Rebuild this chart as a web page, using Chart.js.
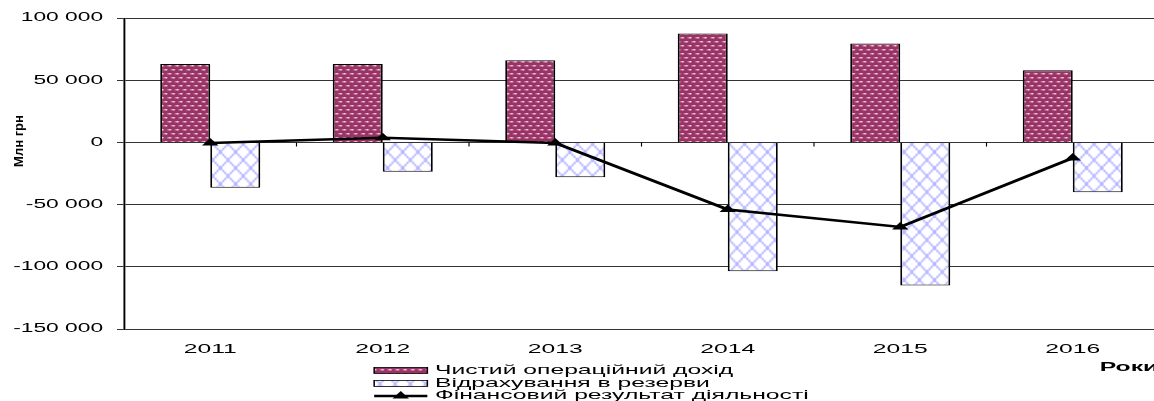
<!DOCTYPE html>
<html>
<head>
<meta charset="utf-8">
<script src="https://cdn.jsdelivr.net/npm/chart.js@4"></script>
<style>
  body { margin: 0; background: #fff; }
  #wrap { width: 1154px; height: 401px; overflow: hidden; }
  canvas { display: block; }
</style>
</head>
<body>
<div id="wrap"><canvas id="chart" width="616" height="401"></canvas></div>
<script>
// Дані
const roky = ['2011', '2012', '2013', '2014', '2015', '2016'];
const dokhid = [63000, 63000, 66000, 87500, 79500, 58000];
const rezervy = [-36500, -23500, -28000, -103500, -115000, -40000];
const rezultat = [-500, 3800, -500, -54000, -68000, -12500];
const nazvy = ['Чистий операційний дохід', 'Відрахування в резерви', 'Фінансовий результат діяльності'];

// оригінал розтягнутий по горизонталі, тому малюємо вузько і масштабуємо
const REAL_W = 1170;
const W0 = 616;
const K = REAL_W / W0;
const FONT = '"Liberation Sans", Arial, sans-serif';

function patternDots() {
    const c = document.createElement('canvas');
    c.width = 4; c.height = 8;
    const g = c.getContext('2d');
    g.fillStyle = '#993366';
    g.fillRect(0, 0, 4, 8);
    g.fillStyle = 'rgba(255,230,240,0.95)';
    g.fillRect(0.5, 1, 1.6, 1.5);
    g.fillRect(2.5, 5, 1.6, 1.5);
    return g.createPattern(c, 'repeat');
}

function patternCross() {
    const c = document.createElement('canvas');
    c.width = 8; c.height = 16;
    const g = c.getContext('2d');
    g.fillStyle = '#fff';
    g.fillRect(0, 0, 8, 16);
    g.strokeStyle = '#a8a8ff';
    g.lineWidth = 1;
    g.beginPath();
    g.moveTo(0, 0); g.lineTo(8, 16);
    g.moveTo(8, 0); g.lineTo(0, 16);
    g.stroke();
    return g.createPattern(c, 'repeat');
}

const formatNum = v => {
    const s = String(Math.abs(v)).replace(/\B(?=(\d{3})+(?!\d))/g, ' ');
    return v < 0 ? '-' + s : s;
};

const canvas = document.getElementById('chart');

const extras = {
    id: 'extras',
    beforeDraw(chart) {
        chart.ctx.setTransform(K, 0, 0, 1, 0, 0);
    },
    afterDraw(chart) {
        const ctx = chart.ctx;
        const x = chart.scales.x, y = chart.scales.y;
        const y0 = y.getPixelForValue(0);

        // маленькі поділки на нульовій лінії
        ctx.save();
        ctx.strokeStyle = '#000';
        ctx.lineWidth = 0.6;
        ctx.beginPath();
        for (let i = 0; i < roky.length - 1; i++) {
            const xm = (x.getPixelForValue(i) + x.getPixelForValue(i + 1)) / 2;
            ctx.moveTo(xm, y0);
            ctx.lineTo(xm, y0 + 4);
        }
        ctx.stroke();

        // Роки
        ctx.fillStyle = '#000';
        ctx.font = 'bold 13px ' + FONT;
        ctx.textAlign = 'left';
        ctx.textBaseline = 'middle';
        ctx.fillText('Роки', 579, 367);

        // легенда
        const lx = 197, lw = 28, tx = 229;
        const rows = [370, 383, 395];
        ctx.font = '13px ' + FONT;
        chart.data.datasets.forEach((ds, i) => {
            const ry = rows[i];
            if (ds.type === 'line') {
                ctx.strokeStyle = '#000';
                ctx.lineWidth = 2.5;
                ctx.beginPath();
                ctx.moveTo(lx, ry + 1);
                ctx.lineTo(lx + lw, ry + 1);
                ctx.stroke();
                const cx = lx + lw / 2, r = 5;
                ctx.fillStyle = '#000';
                ctx.beginPath();
                ctx.moveTo(cx, ry + 1 - r);
                ctx.lineTo(cx + r * 0.866, ry + 1 + r / 2);
                ctx.lineTo(cx - r * 0.866, ry + 1 + r / 2);
                ctx.closePath();
                ctx.fill();
            } else {
                ctx.fillStyle = ds.backgroundColor;
                ctx.fillRect(lx, ry - 2.5, lw, 6);
                ctx.strokeStyle = '#000';
                ctx.lineWidth = 0.8;
                ctx.strokeRect(lx, ry - 2.5, lw, 6);
            }
            ctx.fillStyle = '#000';
            ctx.fillText(ds.label, tx, ry);
        });

        // підпис осі Y без масштабу
        ctx.setTransform(1, 0, 0, 1, 0, 0);
        ctx.translate(19, 141);
        ctx.rotate(-Math.PI / 2);
        ctx.font = 'bold 13px ' + FONT;
        ctx.textAlign = 'center';
        ctx.fillText('Млн грн', 0, 0);
        ctx.restore();
    }
};

const chart = new Chart(canvas, {
    type: 'bar',
    data: {
        labels: roky,
        datasets: [
            {
                label: nazvy[0],
                data: dokhid,
                backgroundColor: patternDots(),
                borderColor: '#000',
                borderWidth: 1,
                order: 1
            },
            {
                label: nazvy[1],
                data: rezervy,
                backgroundColor: patternCross(),
                borderColor: '#000',
                borderWidth: 1,
                order: 1
            },
            {
                type: 'line',
                label: nazvy[2],
                data: rezultat,
                borderColor: '#000',
                backgroundColor: '#000',
                borderWidth: 2.5,
                pointStyle: 'triangle',
                pointRadius: 5,
                pointBorderWidth: 0,
                tension: 0,
                order: 0
            }
        ]
    },
    options: {
        responsive: false,
        animation: false,
        devicePixelRatio: 1,
        layout: { padding: { top: 18, bottom: 42, left: 0, right: W0 - 1159 / K } },
        datasets: {
            bar: { categoryPercentage: 0.58, barPercentage: 1 }
        },
        scales: {
            x: {
                grid: { display: false, drawTicks: false },
                border: { display: false },
                ticks: { color: '#000', padding: 13, font: { family: FONT, size: 13 } },
                afterFit(scale) { scale.height = 30; }
            },
            y: {
                min: -150000,
                max: 100000,
                ticks: {
                    stepSize: 50000,
                    color: '#000',
                    padding: 7.3,
                    font: { family: FONT, size: 12 },
                    callback: v => formatNum(v)
                },
                grid: { color: '#333', lineWidth: 1, tickLength: 3.7 },
                border: { color: '#000', width: 1 },
                afterFit(scale) { scale.width = 124 / K; }
            }
        },
        plugins: {
            legend: { display: false },
            tooltip: { enabled: false }
        }
    },
    plugins: [extras]
});

// розтягуємо полотно і перемальовуємо
canvas.width = REAL_W;
canvas.style.width = REAL_W + 'px';
canvas.style.height = '401px';
chart.draw();
</script>
</body>
</html>
